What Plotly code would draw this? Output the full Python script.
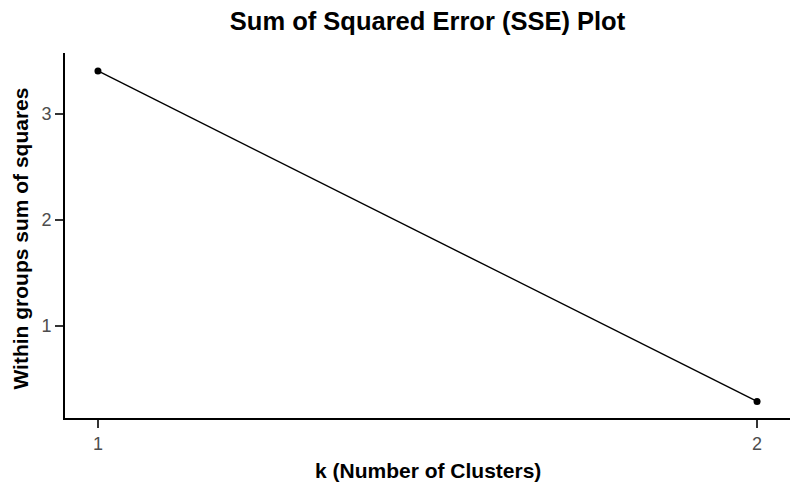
import plotly.graph_objects as go

k_values = [1, 2]
sse_values = [3.406, 0.286]
x_ticks = [1, 2]
y_ticks = [1, 2, 3]

font_family = "Liberation Sans, Arial, Helvetica, sans-serif"

fig = go.Figure()
fig.add_trace(go.Scatter(
    x=k_values, y=sse_values, mode="lines+markers",
    line=dict(color="black", width=1.4),
    marker=dict(color="black", size=7),
    showlegend=False,
))

fig.update_layout(
    width=800, height=494,
    paper_bgcolor="white", plot_bgcolor="white",
    margin=dict(l=57, r=18, t=45, b=84),
    font=dict(family=font_family),
    title=dict(
        text="<b>Sum of Squared Error (SSE) Plot</b>",
        x=0.5, xref="paper", xanchor="center",
        y=1 - 13 / 494, yref="container", yanchor="middle",
        font=dict(size=25.5, color="black"),
    ),
    annotations=[
        dict(text="<b>k (Number of Clusters)</b>", xref="paper", yref="paper",
             x=0.5, y=-0.1425, xanchor="center", yanchor="middle",
             showarrow=False, font=dict(size=21, color="black")),
        dict(text="<b>Within groups sum of squares</b>", xref="paper", yref="paper",
             x=-0.062, y=0.4918, xanchor="center", yanchor="middle", textangle=-90,
             showarrow=False, font=dict(size=21, color="black")),
    ],
)

fig.update_xaxes(
    range=[0.95, 2.05], tickvals=x_ticks, ticktext=[str(v) for v in x_ticks],
    showgrid=False, zeroline=False, automargin=False,
    showline=True, linecolor="black", linewidth=2,
    ticks="outside", ticklen=8, tickwidth=1.5, tickcolor="#333333",
    tickfont=dict(size=18, color="#4d4d4d"),
)
fig.update_yaxes(
    range=[0.13, 3.575], tickvals=y_ticks, ticktext=[str(v) for v in y_ticks],
    showgrid=False, zeroline=False, automargin=False,
    showline=True, linecolor="black", linewidth=2,
    ticks="outside", ticklen=8, tickwidth=1.5, tickcolor="#333333",
    tickfont=dict(size=18, color="#4d4d4d"),
)

fig.write_html("out.html")
